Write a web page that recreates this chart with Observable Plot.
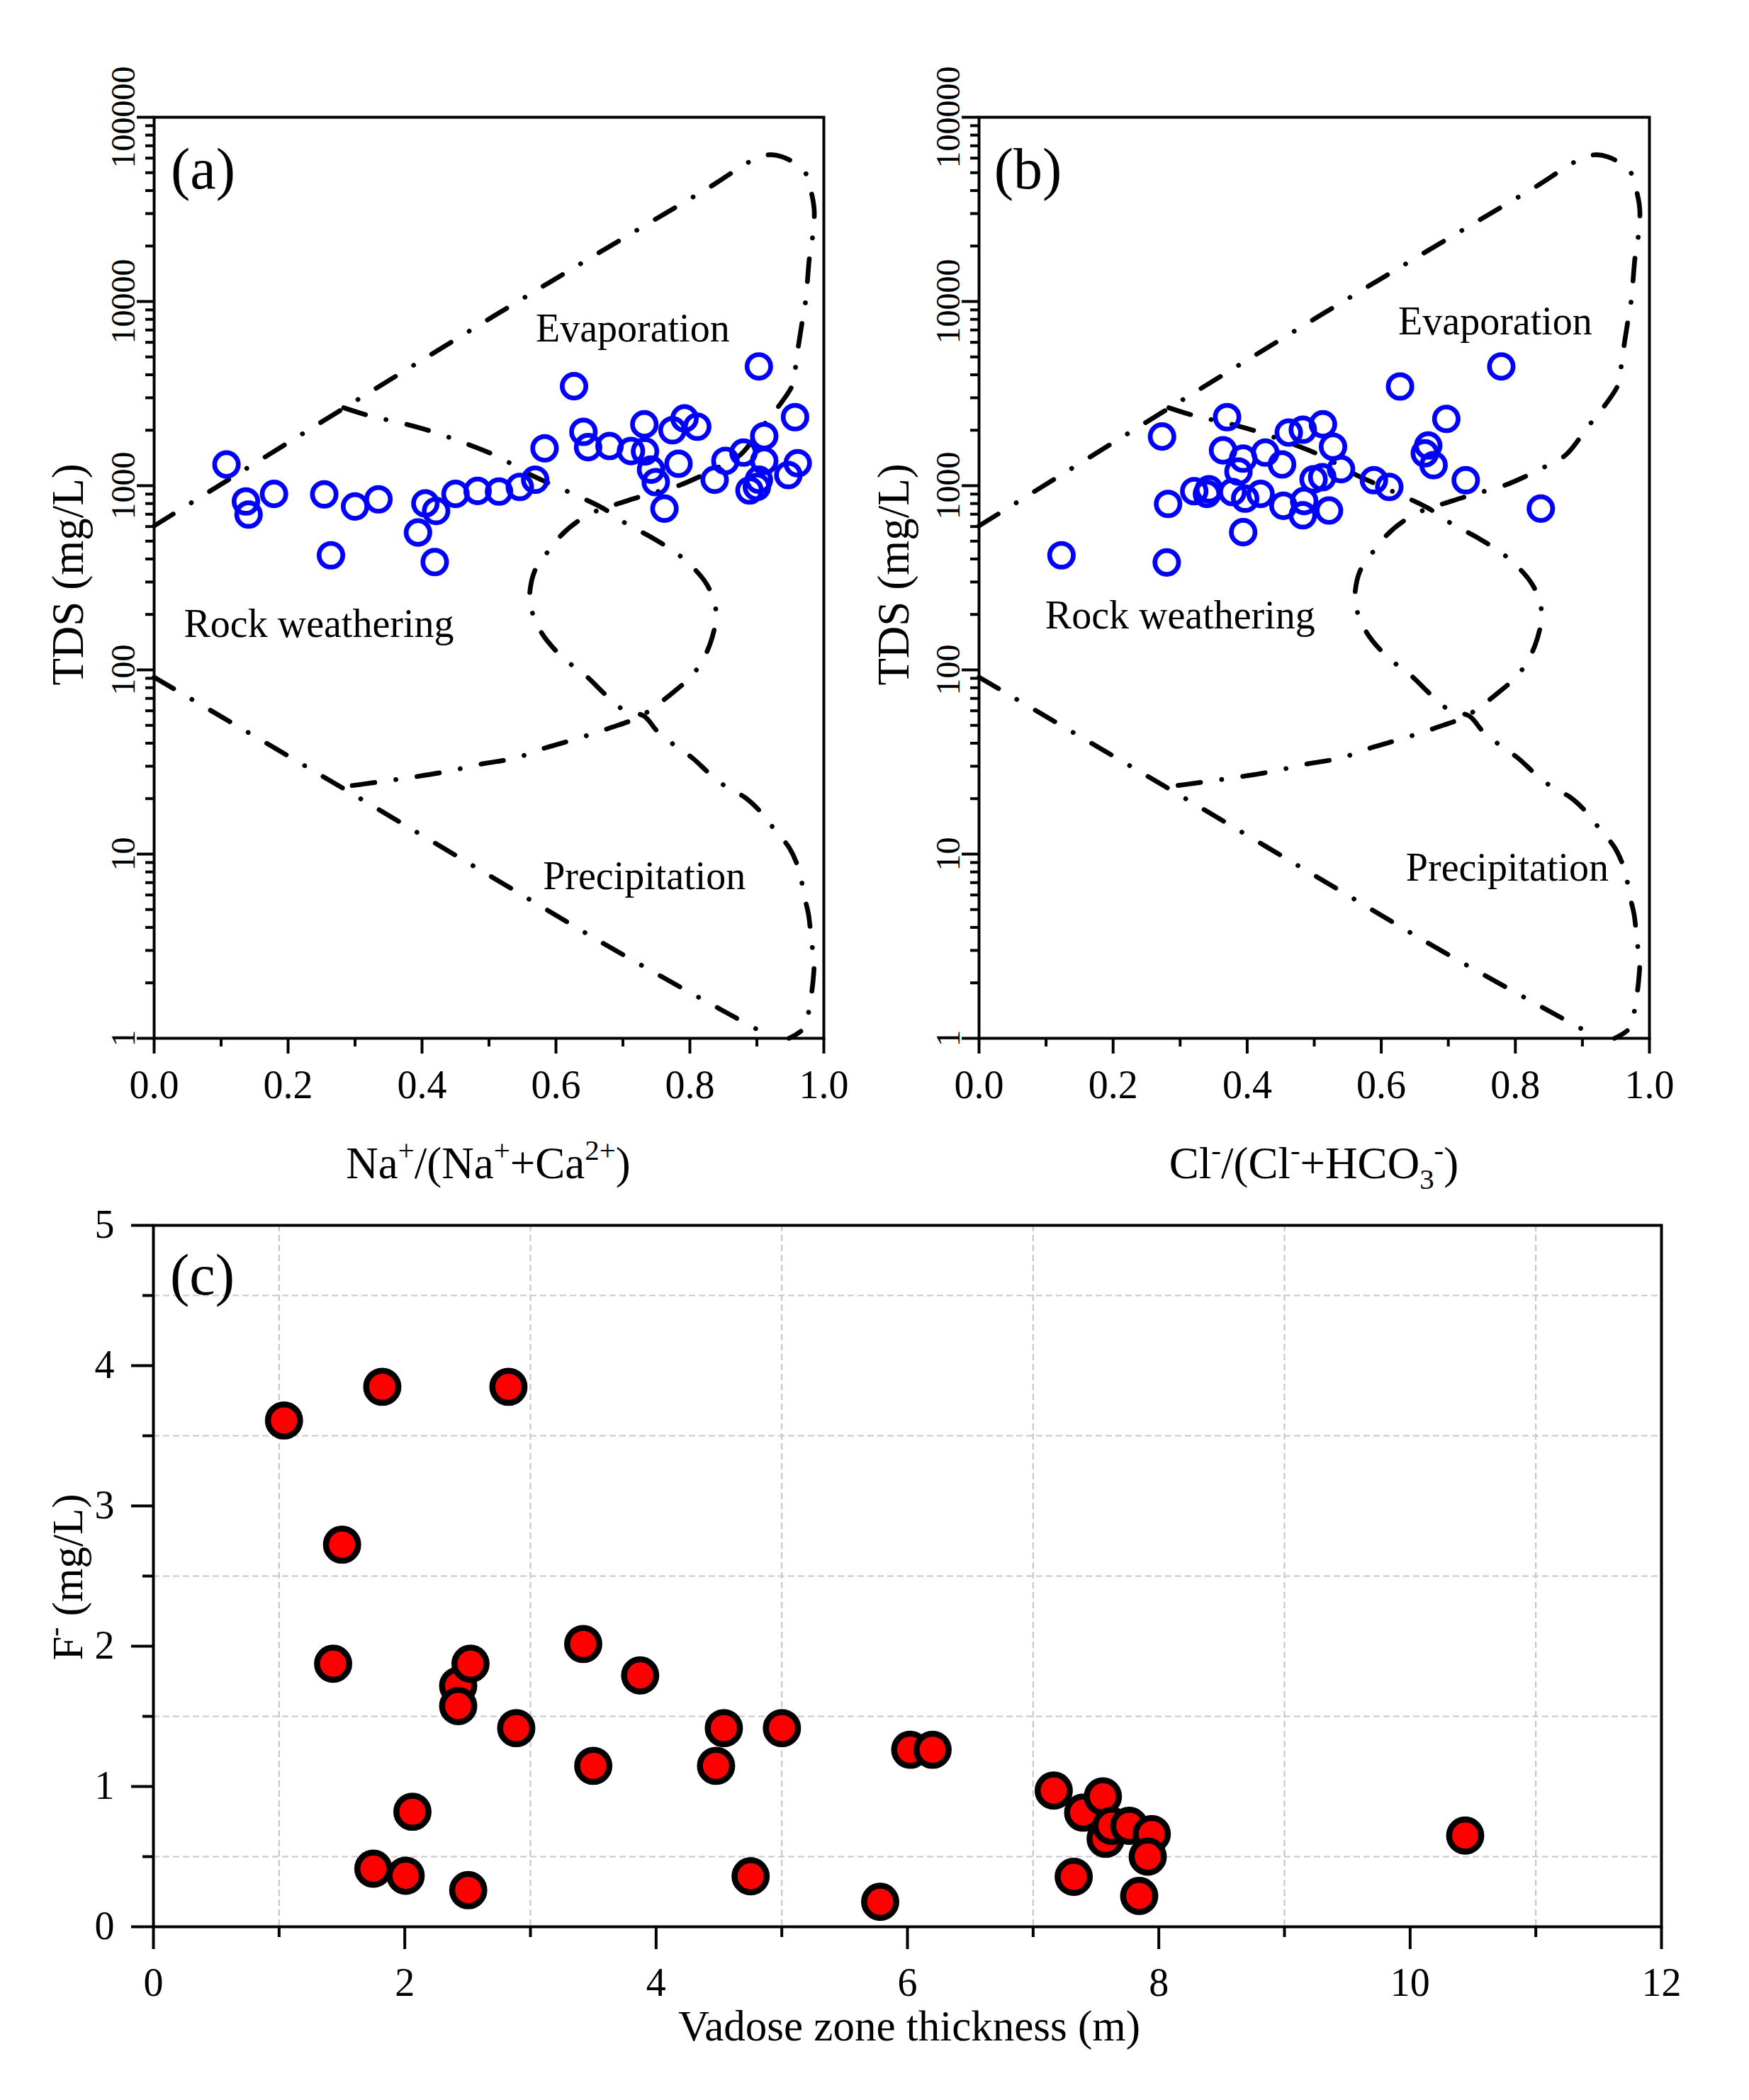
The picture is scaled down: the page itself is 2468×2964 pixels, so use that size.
<!DOCTYPE html>
<html>
<head>
<meta charset="utf-8">
<script src="https://cdn.jsdelivr.net/npm/d3@7"></script>
<script src="https://cdn.jsdelivr.net/npm/@observablehq/plot@0.6"></script>
<style>
  body { margin: 0; background: #fff; }
  #fig { position: relative; width: 2468px; height: 2964px; background: #fff; }
  #fig > svg { position: absolute; }
</style>
</head>
<body>
<div id="fig"></div>
<script>
// (a) Na+/(Na+ + Ca2+) against TDS
const naRatio = [0.108, 0.137, 0.141, 0.179, 0.254, 0.264, 0.300, 0.335, 0.394, 0.405, 0.419, 0.421,
  0.450, 0.483, 0.515, 0.546, 0.569, 0.583, 0.627, 0.641, 0.648, 0.680, 0.712, 0.732, 0.733, 0.742,
  0.749, 0.762, 0.774, 0.783, 0.792, 0.811, 0.837, 0.853, 0.880, 0.889, 0.900, 0.903, 0.903, 0.911,
  0.911, 0.947, 0.957, 0.961];
const naTds = [1303, 821, 697, 902, 897, 419, 771, 843, 557, 801, 385, 729,
  902, 937, 929, 985, 1077, 1595, 3467, 1960, 1618, 1641, 1542, 2153, 1535, 1222,
  1045, 751, 2000, 1316, 2317, 2091, 1077, 1364, 1512, 942, 985, 1077, 4440, 1858,
  1364, 1142, 2355, 1324];

// (b) Cl-/(Cl- + HCO3-) against TDS
const clRatio = [0.123, 0.273, 0.280, 0.282, 0.321, 0.340, 0.343, 0.364, 0.370, 0.378, 0.387, 0.394,
  0.394, 0.397, 0.420, 0.427, 0.452, 0.454, 0.462, 0.483, 0.483, 0.485, 0.499, 0.512, 0.513, 0.522,
  0.528, 0.540, 0.589, 0.612, 0.628, 0.665, 0.670, 0.678, 0.697, 0.726, 0.779, 0.838];
const clTds = [419, 1848, 383, 796, 934, 902, 957, 1556, 2355, 923, 1194, 1403,
  559, 851, 902, 1512, 1304, 778, 1942, 2013, 691, 826, 1083, 1112, 2155, 733,
  1628, 1230, 1071, 985, 3455, 1499, 1652, 1293, 2305, 1071, 4440, 751];

// (c) vadose zone thickness (m) against F- (mg/L)
const vadose = [1.039, 1.821, 2.825, 1.501, 1.430, 2.425, 2.425, 2.523, 2.887, 3.420, 3.873, 3.500,
  4.539, 4.477, 5.001, 6.022, 6.200, 2.061, 1.750, 2.007, 2.505, 4.752, 5.783, 7.164, 7.398, 7.555,
  7.577, 7.624, 7.765, 7.944, 7.912, 7.323, 7.844, 10.438];
const fluoride = [3.609, 3.849, 3.849, 2.724, 1.875, 1.718, 1.573, 1.875, 1.416, 2.016, 1.792, 1.147,
  1.416, 1.147, 1.416, 1.262, 1.262, 0.820, 0.414, 0.364, 0.261, 0.360, 0.178, 0.971, 0.814, 0.929,
  0.627, 0.720, 0.720, 0.661, 0.500, 0.356, 0.220, 0.650];

// Gibbs boundaries, [ratio, TDS]
const gibbsOuter = [[0, 605], [0.283, 2630], [0.511, 8490], [0.652, 17300], [0.8215, 40100],
  [0.9097, 61800], [0.938, 61000], [0.9714, 50600], [0.980, 40900], [0.9856, 31500], [0.9838, 23300],
  [0.9785, 17300], [0.973, 10200], [0.968, 7890], [0.959, 4840], [0.954, 3590], [0.938, 2870],
  [0.9167, 2290], [0.897, 1830], [0.8744, 1460], [0.8427, 1260], [0.8145, 1120], [0.7827, 1000],
  [0.7474, 918], [0.7228, 865], [0.6945, 802], [0.6663, 745], [0.6328, 641], [0.6063, 531],
  [0.5852, 425], [0.5675, 339], [0.5605, 242], [0.564, 208], [0.578, 160], [0.599, 128],
  [0.624, 106], [0.647, 91.4], [0.670, 75.7], [0.7016, 60.5], [0.7316, 56.1], [0.751, 46.6],
  [0.779, 38.5], [0.804, 33.2], [0.8286, 27.5], [0.857, 22.8], [0.8815, 20.4], [0.906, 16.9],
  [0.927, 13.5], [0.9485, 10.8], [0.964, 8.0], [0.9696, 6.15], [0.977, 4.73], [0.982, 3.26],
  [0.9855, 2.70], [0.984, 2.07], [0.9785, 1.48], [0.971, 1.14], [0.948, 1.0]];
const gibbsInner = [[0.283, 2650], [0.321, 2400], [0.371, 2180], [0.4125, 1980], [0.4625, 1710],
  [0.504, 1490], [0.5375, 1290], [0.557, 1170], [0.617, 931], [0.670, 755], [0.7033, 627],
  [0.7475, 512], [0.788, 408], [0.825, 292], [0.839, 208], [0.830, 138], [0.807, 97], [0.770, 73],
  [0.726, 56], [0.680, 48.3], [0.633, 42.5], [0.585, 37.8], [0.539, 33.2], [0.49, 30.9],
  [0.44, 28.2], [0.39, 26.3], [0.33, 24.5], [0.279, 23.1]];
const gibbsLower = [[0, 91.2], [0.279, 23.1], [0.5217, 6.89], [0.6875, 3.02], [0.864, 1.32], [0.925, 1.0]];

// ticks
const ratioTicks = [0, 0.2, 0.4, 0.6, 0.8, 1.0];
const ratioMinor = [0.1, 0.3, 0.5, 0.7, 0.9];
const tdsTicks = [1, 10, 100, 1000, 10000, 100000];
const tdsMinor = [1, 10, 100, 1000, 10000].flatMap(p => [2, 3, 4, 5, 6, 7, 8, 9].map(k => k * p));
const vTicks = [0, 2, 4, 6, 8, 10, 12];
const vMinor = [1, 3, 5, 7, 9, 11];
const fTicks = [0, 1, 2, 3, 4, 5];
const fMinor = [0.5, 1.5, 2.5, 3.5, 4.5];

// zone labels
const zoneNames = ["Evaporation", "Rock weathering", "Precipitation"];
const zoneA = [[0.7146, 7080], [0.246, 177], [0.732, 7.53]];
const zoneB = [[0.770, 7780], [0.300, 196], [0.788, 8.41]];

const serif = "Liberation Serif, Times New Roman, serif";
const dashDot = "32 30 0.1 30";
const fig = d3.select("#fig");

// title with sup/sub parts: [text, "sup"|"sub"|undefined]
function richText(node, parts, fs) {
  let shift = 0;
  parts.forEach(([t, k]) => {
    const target = k === "sup" ? -0.42 * fs : k === "sub" ? 0.24 * fs : 0;
    node.append("tspan")
      .attr("dy", target - shift)
      .attr("font-size", k ? fs * 0.65 : fs)
      .text(t);
    shift = target;
  });
}

function addTitles(svg, xt, yt) {
  const s = d3.select(svg);
  const tx = s.append("text")
    .attr("x", xt.x).attr("y", xt.y)
    .attr("text-anchor", "middle").attr("fill", "black")
    .attr("font-family", serif).attr("font-size", xt.fs);
  richText(tx, xt.parts, xt.fs);
  const ty = s.append("text")
    .attr("transform", `translate(${yt.x},${yt.y}) rotate(-90)`)
    .attr("text-anchor", "middle").attr("fill", "black")
    .attr("font-family", serif).attr("font-size", yt.fs);
  richText(ty, yt.parts, yt.fs);
}

function gibbsPanel(ratio, tds, zones, tag, mL, mR) {
  const pts = ratio.map((x, i) => ({x, y: tds[i]}));
  const labels = zoneNames.map((t, i) => ({t, x: zones[i][0], y: zones[i][1]}));
  return Plot.plot({
    width: 1234,
    height: 1720,
    marginTop: 165,
    marginBottom: 255,
    marginLeft: mL,
    marginRight: mR,
    style: {fontFamily: serif, background: "white", color: "black", overflow: "visible"},
    x: {domain: [0, 1]},
    y: {type: "log", domain: [1, 100000]},
    marks: [
      ...[gibbsOuter, gibbsInner, gibbsLower].map(c => Plot.line(c, {
        x: d => d[0], y: d => d[1], curve: "catmull-rom",
        stroke: "black", strokeWidth: 6.7, strokeDasharray: dashDot, strokeLinecap: "round"
      })),
      Plot.dot(pts, {x: "x", y: "y", r: 16.7, stroke: "#0000ff", strokeWidth: 6.7, fill: "none"}),
      Plot.text(labels, {x: "x", y: "y", text: "t", fontSize: 56, fill: "black"}),
      Plot.text([tag], {text: d => d, frameAnchor: "top-left", dx: 69, dy: 100,
        textAnchor: "middle", lineAnchor: "bottom", fontSize: 82, fill: "black"}),
      Plot.axisX(ratioTicks, {tickSize: 22, tickPadding: 23, tickFormat: d3.format(".1f"),
        fontSize: 56, strokeWidth: 4, label: null}),
      Plot.axisX(ratioMinor, {tickSize: 12, tickFormat: () => "", strokeWidth: 4, label: null}),
      Plot.axisY(tdsTicks, {tickSize: 24, tickPadding: 4, tickRotate: -90, tickFormat: d3.format("d"),
        fontSize: 48, strokeWidth: 4, label: null}),
      Plot.axisY(tdsMinor, {tickSize: 12, tickFormat: () => "", strokeWidth: 4, label: null}),
      Plot.frame({strokeWidth: 4})
    ]
  });
}

// panel (a)
const svgA = gibbsPanel(naRatio, naTds, zoneA, "(a)", 217, 72);
svgA.style.left = "0px";
svgA.style.top = "0px";
fig.append(() => svgA);
addTitles(svgA,
  {x: 689, y: 1663, fs: 63, parts: [["Na"], ["+", "sup"], ["/(Na"], ["+", "sup"], ["+Ca"], ["2+", "sup"], [")"]]},
  {x: 117, y: 811, fs: 63, parts: [["TDS (mg/L)"]]});

// panel (b)
const svgB = gibbsPanel(clRatio, clTds, zoneB, "(b)", 147, 141);
svgB.style.left = "1234px";
svgB.style.top = "0px";
fig.append(() => svgB);
addTitles(svgB,
  {x: 620, y: 1663, fs: 63, parts: [["Cl"], ["-", "sup"], ["/(Cl"], ["-", "sup"], ["+HCO"], ["3", "sub"], ["-", "sup"], [")"]]},
  {x: 48, y: 811, fs: 63, parts: [["TDS (mg/L)"]]});

// panel (c)
const ptsC = vadose.map((x, i) => ({x, y: fluoride[i]}));
const gridStyle = {stroke: "#c8c8c8", strokeOpacity: 1, strokeWidth: 2.2, strokeDasharray: "9 5"};
const svgC = Plot.plot({
  width: 2468,
  height: 1264,
  marginTop: 29,
  marginBottom: 245,
  marginLeft: 216,
  marginRight: 124,
  style: {fontFamily: serif, background: "white", color: "black", overflow: "visible"},
  x: {domain: [0, 12]},
  y: {domain: [0, 5]},
  marks: [
    Plot.gridX(vMinor, gridStyle),
    Plot.gridY(fMinor, gridStyle),
    Plot.dot(ptsC, {x: "x", y: "y", r: 22.7, fill: "#ff0000", stroke: "black", strokeWidth: 8.5}),
    Plot.text(["(c)"], {text: d => d, frameAnchor: "top-left", dx: 69, dy: 97,
      textAnchor: "middle", lineAnchor: "bottom", fontSize: 82, fill: "black"}),
    Plot.axisX(vTicks, {tickSize: 32, tickPadding: 26, tickFormat: d3.format("d"),
      fontSize: 56, strokeWidth: 4, label: null}),
    Plot.axisX(vMinor, {tickSize: 15, tickFormat: () => "", strokeWidth: 4, label: null}),
    Plot.axisY(fTicks, {tickSize: 31, tickPadding: 24, tickFormat: d3.format("d"),
      fontSize: 56, strokeWidth: 4, label: null}),
    Plot.axisY(fMinor, {tickSize: 15, tickFormat: () => "", strokeWidth: 4, label: null}),
    Plot.frame({strokeWidth: 4})
  ]
});
svgC.style.left = "0px";
svgC.style.top = "1700px";
fig.append(() => svgC);
addTitles(svgC,
  {x: 1283, y: 1180, fs: 61, parts: [["Vadose zone thickness (m)"]]},
  {x: 116, y: 526, fs: 61, parts: [["F"], ["-", "sup"], [" (mg/L)"]]});
</script>
</body>
</html>
